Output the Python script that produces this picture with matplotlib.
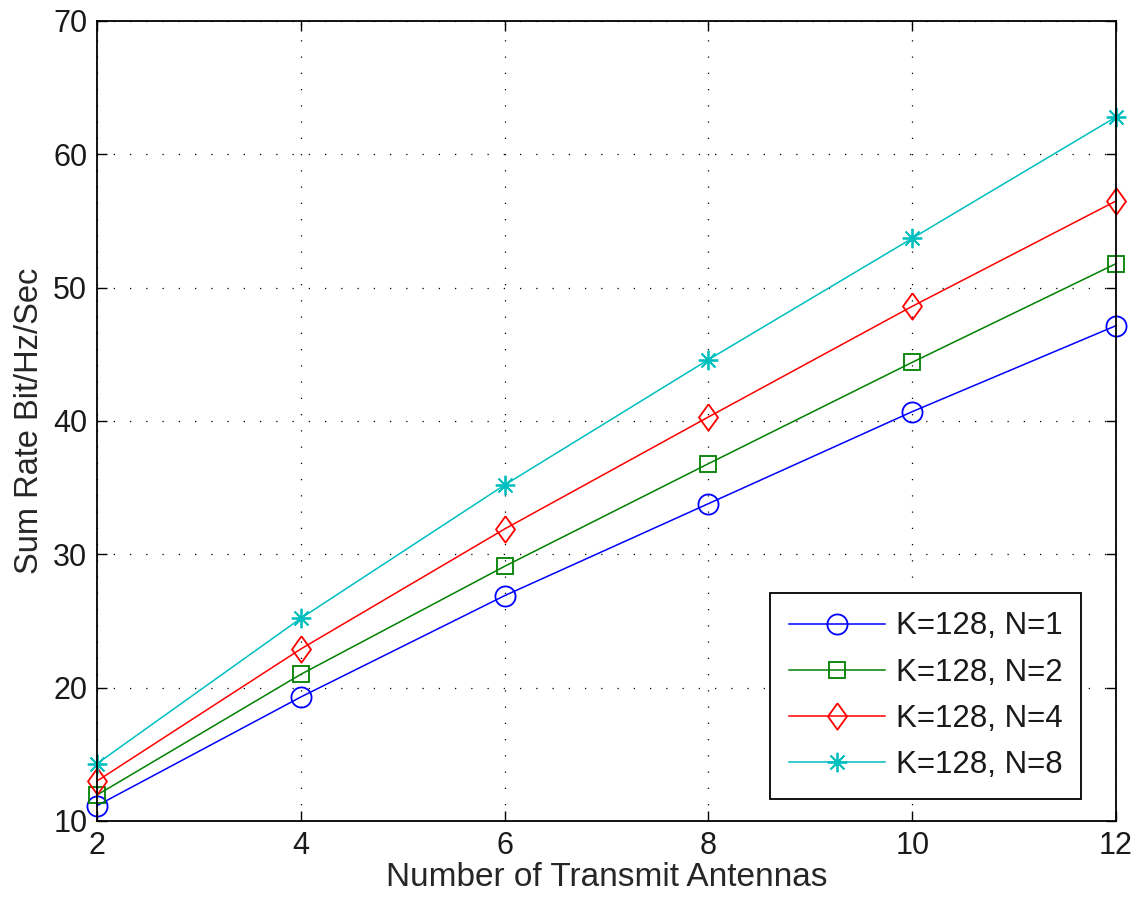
import matplotlib
matplotlib.use("Agg")
import matplotlib.pyplot as plt

plt.rcParams['font.family'] = ['Liberation Sans', 'DejaVu Sans']

antennas = [2, 4, 6, 8, 10, 12]
rate_n1 = [11.15, 19.3, 26.9, 33.8, 40.7, 47.15]
rate_n2 = [11.95, 21.0, 29.1, 36.8, 44.4, 51.8]
rate_n4 = [13.0, 22.9, 31.9, 40.3, 48.6, 56.5]
rate_n8 = [14.3, 25.2, 35.2, 44.6, 53.7, 62.8]
labels = ['K=128, N=1', 'K=128, N=2', 'K=128, N=4', 'K=128, N=8']
x_ticks = [2, 4, 6, 8, 10, 12]
y_ticks = [10, 20, 30, 40, 50, 60, 70]

fig = plt.figure(figsize=(11.42, 9.09), dpi=100)
ax = fig.add_axes([97/1142, 1-821/909, (1116-97)/1142, (821-21)/909])

diamond = [(0, 1), (0.72, 0), (0, -1), (-0.72, 0), (0, 1)]
styles = [
    dict(color=(0, 0, 1), marker='o', markersize=14.5, mfc='none', mew=1.3),
    dict(color=(0, 0.5, 0), marker='s', markersize=12, mfc='none', mew=1.3),
    dict(color=(1, 0, 0), marker=diamond, markersize=19, mfc='none', mew=1.3),
    dict(color=(0, 0.75, 0.75), marker=(8, 2, 0), markersize=14, mfc='none', mew=1.3),
]
series = [rate_n1, rate_n2, rate_n4, rate_n8]
for ys, lab, st in zip(series, labels, styles):
    ax.plot(antennas, ys, label=lab, linewidth=1.1, clip_on=False, zorder=3, **st)

ax.set_xlim(2, 12)
ax.set_ylim(10, 70)
ax.set_xticks(x_ticks)
ax.set_yticks(y_ticks)
ax.grid(True, color='black', linestyle=(0, (1, 12)), linewidth=0.9)
ax.tick_params(direction='in', top=True, right=True, length=7.2, width=1,
               labelsize=22, pad=7, labelcolor='#1a1a1a')
for s in ax.spines.values():
    s.set_linewidth(1.3)
    s.set_zorder(4)
ax.set_xlabel('Number of Transmit Antennas', fontsize=24, labelpad=1, color='#262626')
ax.set_ylabel('Sum Rate Bit/Hz/Sec', fontsize=23.5, labelpad=6, color='#262626')

leg = ax.legend(loc='lower right', bbox_to_anchor=(0.9657, 0.0275), borderaxespad=0,
                fontsize=22.5, handlelength=3.07, fancybox=False, edgecolor='black',
                framealpha=1, borderpad=0.6, labelspacing=0.52, handletextpad=0.35)
leg.get_frame().set_linewidth(1.3)
for t in leg.get_texts():
    t.set_color('#1a1a1a')

fig.savefig('out.png', dpi=100)
